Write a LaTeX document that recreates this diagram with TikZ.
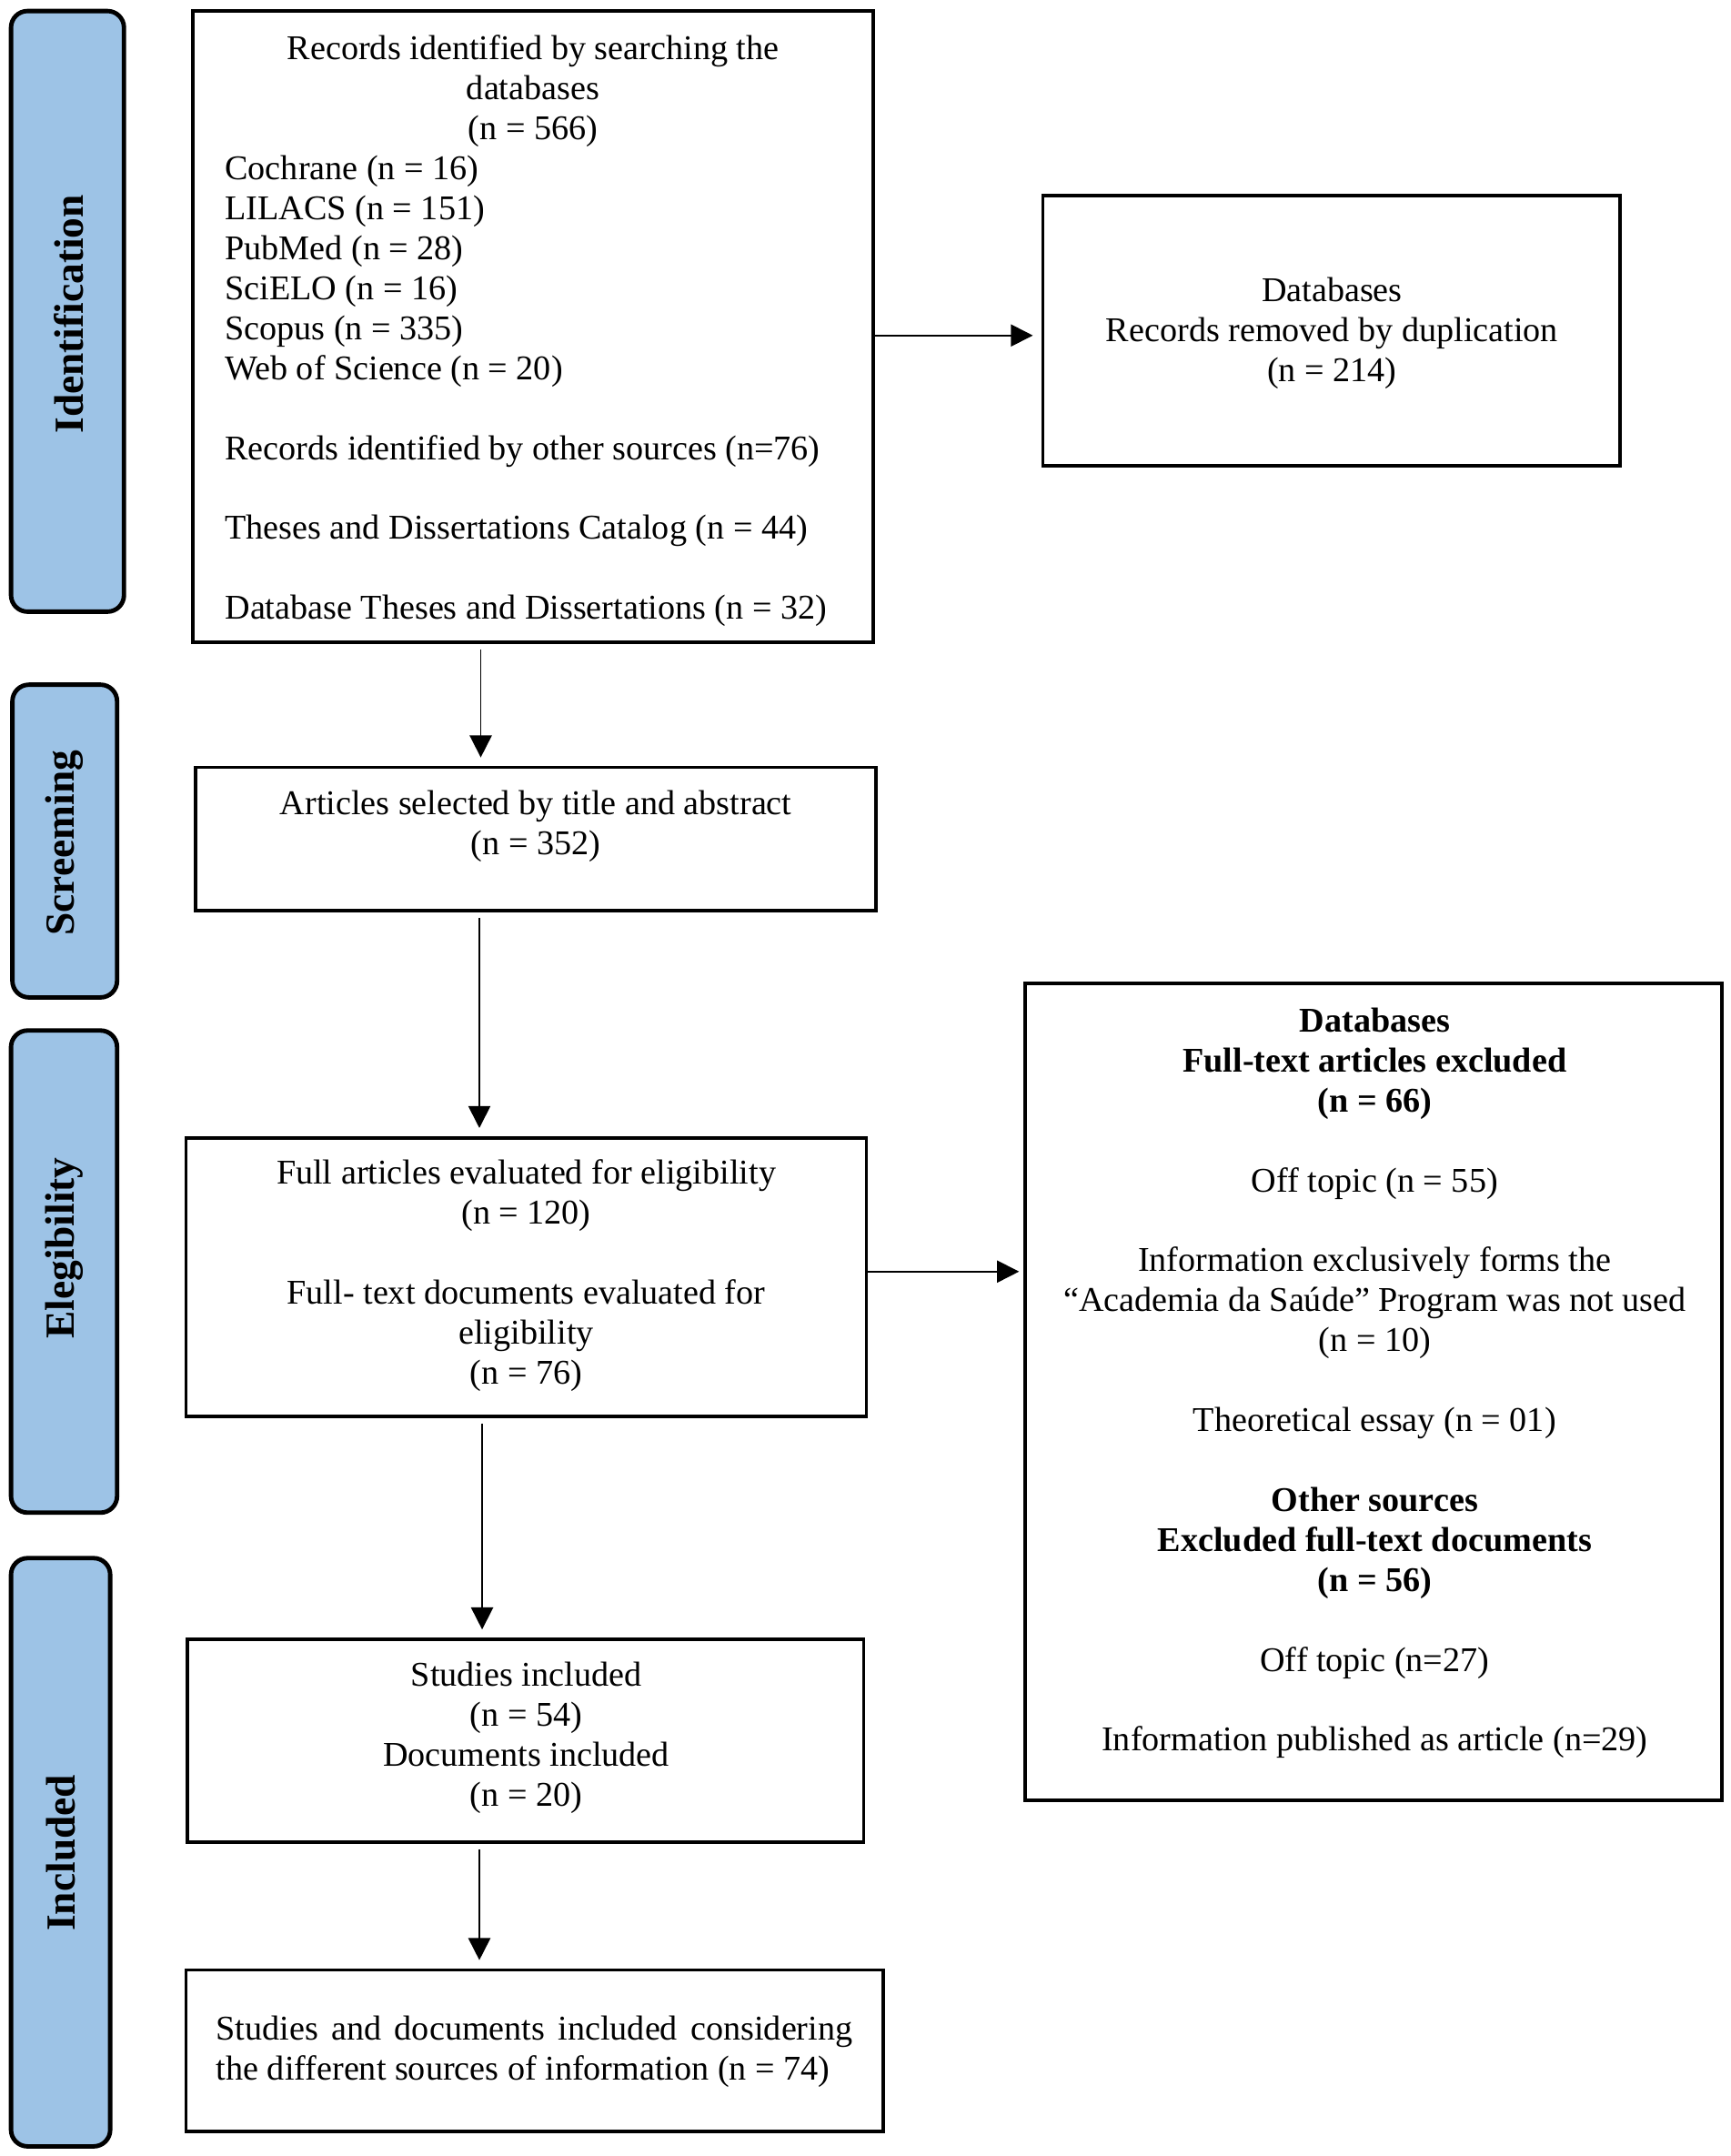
\documentclass[tikz,border=0pt]{standalone}
\usepackage{fontspec}
\setmainfont{Liberation Serif}
\usetikzlibrary{arrows.meta}
\definecolor{stageblue}{RGB}{157,195,230}
\begin{document}
\begin{tikzpicture}[x=0.5pt,y=-0.5pt,
  box/.style={draw=black, line width=1.2pt, inner sep=0pt, fill=white},
  stagebox/.style={draw=black, line width=1.6pt, rounded corners=6pt, fill=stageblue, inner sep=0pt},
  txt/.style={font=\fontsize{12.6pt}{14.5pt}\selectfont, align=center, inner sep=0pt},
  stagetxt/.style={font=\fontsize{15pt}{18pt}\selectfont\bfseries, rotate=90, inner sep=0pt},
  arr/.style={-{Triangle[length=8pt,width=8pt]}, line width=0.6pt, shorten <=2pt, shorten >=3pt}]
\path[fill=white, use as bounding box] (0,0) rectangle (1256,1565);

% stage boxes
\node[stagebox, minimum width=41pt, minimum height=218pt] (Sid) at (49,226) {};
\node[stagebox, minimum width=38pt, minimum height=113.5pt] (Ssc) at (47,610.5) {};
\node[stagebox, minimum width=38.5pt, minimum height=175pt] (Sel) at (46.5,923) {};
\node[stagebox, minimum width=36pt, minimum height=213.5pt] (Sin) at (44,1344.5) {};
\node[stagetxt] (Lid) at (50,228) {Identification};
\node[stagetxt] (Lsc) at (47,612) {Screeming};
\node[stagetxt] (Lel) at (47,906) {Elegibility};
\node[stagetxt] (Lin) at (44,1345) {Included};

% main boxes
\node[box, minimum width=247pt, minimum height=229pt] (A) at (387,237) {};
\node[box, minimum width=247pt, minimum height=52pt] (B) at (389,609) {};
\node[box, minimum width=247pt, minimum height=101pt] (C) at (382,927) {};
\node[box, minimum width=245.5pt, minimum height=73.5pt] (D) at (381.5,1263.5) {};
\node[box, minimum width=253pt, minimum height=58.5pt] (E) at (388,1488.5) {};
\node[box, minimum width=209.5pt, minimum height=98pt] (R1) at (966.5,240) {};
\node[box, minimum width=253pt, minimum height=296.5pt] (R2) at (997,1010.5) {};

% texts
\node[txt] (At) at (387,66) {Records identified by searching the\\databases\\(n = 566)};
\node[txt, align=left, anchor=west] (As) at (163,284) {Cochrane (n = 16)\\LILACS (n = 151)\\PubMed (n = 28)\\SciELO (n = 16)\\Scopus (n = 335)\\Web of Science (n = 20)\\[14.5pt]Records identified by other sources (n=76)\\[14.5pt]Theses and Dissertations Catalog (n = 44)\\[14.5pt]Database Theses and Dissertations (n = 32)};
\node[txt] (Bt) at (389,599.5) {Articles selected by title and abstract\\(n = 352)};
\node[txt] (Ct) at (382,926) {Full articles evaluated for eligibility\\(n = 120)\\[14.5pt]Full- text documents evaluated for\\eligibility\\(n = 76)};
\node[txt] (Dt) at (382,1261.5) {Studies included\\(n = 54)\\Documents included\\(n = 20)};
\node[txt, text width=231pt, align=justify] (Et) at (388,1489.5) {Studies and documents included considering the different sources of information (n = 74)};
\node[txt] (R1t) at (967,242) {Databases\\Records removed by duplication\\(n = 214)};
\node[txt] (R2t) at (998,1004) {\textbf{Databases}\\\textbf{Full-text articles excluded}\\\textbf{(n = 66)}\\[14.5pt]Off topic (n = 55)\\[14.5pt]Information exclusively forms the\\“Academia da Saúde” Program was not used\\(n = 10)\\[14.5pt]Theoretical essay (n = 01)\\[14.5pt]\textbf{Other sources}\\\textbf{Excluded full-text documents}\\\textbf{(n = 56)}\\[14.5pt]Off topic (n=27)\\[14.5pt]Information published as article (n=29)};

% connectors
\coordinate (x1) at (349,0);
\coordinate (x2) at (348,0);
\coordinate (x3) at (350,0);
\coordinate (y1) at (0,243.5);
\coordinate (y2) at (0,923);
\draw[arr] (A.south -| x1) -- (B.north -| x1);
\draw[arr] (B.south -| x2) -- (C.north -| x2);
\draw[arr] (C.south -| x3) -- (D.north -| x3);
\draw[arr] (D.south -| x2) -- (E.north -| x2);
\draw[arr, shorten <=0pt] (A.east |- y1) -- (R1.west |- y1);
\draw[arr, shorten <=0pt, shorten >=1.5pt] (C.east |- y2) -- (R2.west |- y2);
\end{tikzpicture}
\end{document}
